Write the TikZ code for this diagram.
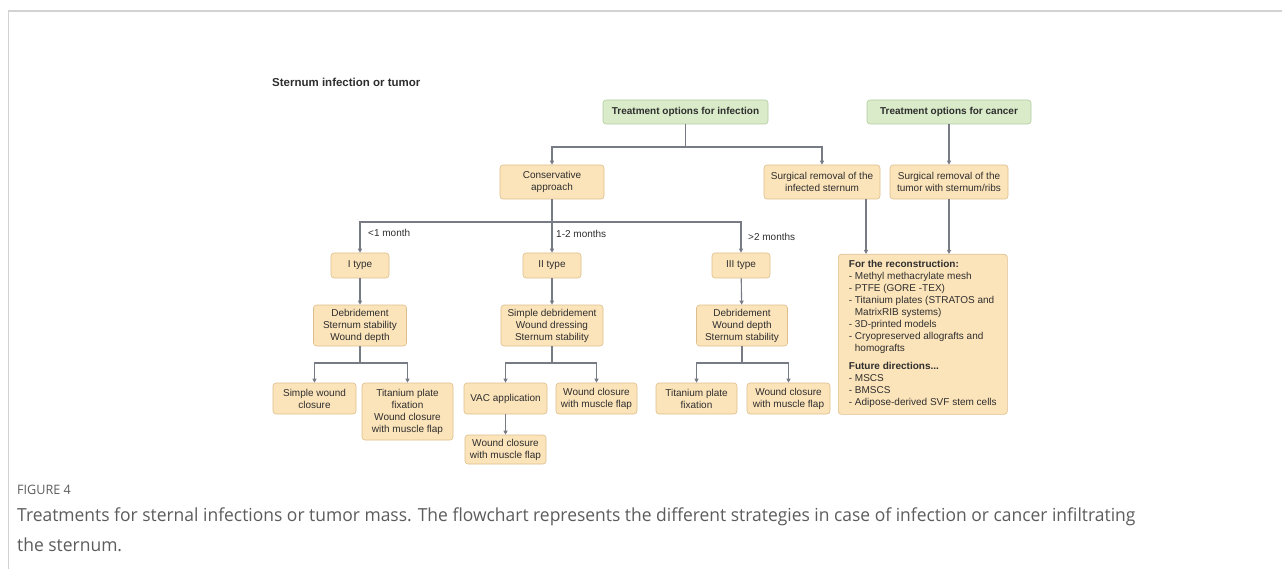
\documentclass[tikz,border=0pt]{standalone}
\usepackage{fontspec}
\setmainfont{Liberation Sans}
\newfontfamily\capfont[FakeStretch=0.97]{Open Sans}
\usepackage{xcolor}
\usetikzlibrary{arrows.meta,positioning}
\definecolor{stnorange}{HTML}{FCE4BA}
\definecolor{stnorangeline}{HTML}{DCBE8C}
\definecolor{stngreen}{HTML}{D9EBC9}
\definecolor{stngreenline}{HTML}{B3CDA0}
\definecolor{stnline}{HTML}{767B84}
\definecolor{stntext}{HTML}{2E2E2E}
\definecolor{stnframe}{HTML}{D2D2D2}
\definecolor{stncap}{HTML}{5C5C5C}
\tikzset{
  box/.style={draw=stnorangeline, fill=stnorange, rounded corners=3pt, align=center,
    inner sep=0pt, line width=0.6pt, text=stntext, font=\fontsize{10}{12}\selectfont},
  gbox/.style={box, draw=stngreenline, fill=stngreen, font=\fontsize{10}{12}\selectfont\bfseries},
  wh/.style 2 args={minimum width=#1pt, minimum height=#2pt},
  link/.style={draw=stnline, line width=1.1pt},
  arr/.style={link, -{Triangle[length=4pt,width=4pt]}},
  lbl/.style={anchor=west, inner sep=0pt, text=stntext, font=\fontsize{10}{12}\selectfont},
}

\begin{document}
\begin{tikzpicture}[x=1pt,y=-1pt]
  \useasboundingbox (0,0) rectangle (1282,569);
  % frame
  \draw[stnframe, line width=1.6pt] (8,11) -- (1282,11);
  \draw[stnframe, line width=0.8pt] (8,11) -- (8,569);
  \node[anchor=west, inner sep=0pt, text=stntext, font=\fontsize{11.5}{14}\selectfont\bfseries]
    (title) at (272,82) {Sternum infection or tumor};
  % top level
  \node[gbox, wh={165}{24}] (inf) at (685.5,112) {Treatment options for infection};
  \node[gbox, wh={164}{24}] (canc) at (949,112) {Treatment options for cancer};
  \node[box, wh={104}{34}] (cons) at (552,182) {Conservative\\approach};
  \node[box, wh={116}{34}] (surginf) at (822,182) {Surgical removal of the\\infected sternum};
  \node[box, wh={118}{34}] (surgtum) at (949,182) {Surgical removal of the\\tumor with sternum/ribs};
  % types
  \node[box, wh={58}{25}] (t1) at (360,265.5) {I type};
  \node[box, wh={58}{25}] (t2) at (552,265.5) {II type};
  \node[box, wh={58}{25}] (t3) at (741,265.5) {III type};
  \node[lbl] (m1) at (368,233) {<1 month};
  \node[lbl] (m2) at (556,234) {1-2 months};
  \node[lbl] (m3) at (748,237) {>2 months};
  \node[box, wh={93}{41}] (d1) at (360,325.5) {Debridement\\Sternum stability\\Wound depth};
  \node[box, wh={102}{41}] (d2) at (552,325.5) {Simple debridement\\Wound dressing\\Sternum stability};
  \node[box, wh={91}{41}] (d3) at (742,325.5) {Debridement\\Wound depth\\Sternum stability};
  % outcomes
  \node[box, wh={83}{31}] (e1) at (314.5,398.5) {Simple wound\\closure};
  \node[box, wh={91}{57}] (e2) at (407.5,411.5) {Titanium plate\\fixation\\Wound closure\\with muscle flap};
  \node[box, wh={83}{31}] (e3) at (505.5,398.5) {VAC application};
  \node[box, wh={81}{31}] (e4) at (596.5,398.5) {Wound closure\\with muscle flap};
  \node[box, wh={81}{29}] (e5) at (505.5,449.5) {Wound closure\\with muscle flap};
  \node[box, wh={81}{31}] (e6) at (696.5,398.5) {Titanium plate\\fixation};
  \node[box, wh={83}{31}] (e7) at (788.5,398.5) {Wound closure\\with muscle flap};
  \node[box, wh={169}{160}, anchor=north west, align=left] (rec) at (838,254) {%
    \textbf{For the reconstruction:}\\
    - Methyl methacrylate mesh\\
    - PTFE (GORE -TEX)\\
    - Titanium plates (STRATOS and\\
    \hspace*{6pt}MatrixRIB systems)\\
    - 3D-printed models\\
    - Cryopreserved allografts and\\
    \hspace*{6pt}homografts\\[6pt]
    \textbf{Future directions...}\\
    - MSCS\\
    - BMSCS\\
    - Adipose-derived SVF stem cells};
  % connectors
  \coordinate (infsplit) at (685.5,147);
  \draw[link] (inf) -- (infsplit);
  \draw[arr] (infsplit) -| (cons);
  \draw[arr] (infsplit) -| (surginf);
  \draw[arr] (canc) -- (surgtum);
  \draw[arr] ([xshift=44pt]surginf.south) -- ([xshift=44pt]surginf.south |- rec.north);
  \draw[arr] (surgtum) -- (surgtum |- rec.north);
  \coordinate (conssplit) at (552,222);
  \draw[link] (cons) -- (conssplit);
  \draw[arr] (conssplit) -| (t1);
  \draw[arr] (conssplit) -- (t2);
  \draw[arr] (conssplit) -| (t3);
  \foreach \i in {1,2,3} \draw[arr] (t\i) -- (d\i);
  \coordinate (d1split) at (360,363);
  \coordinate (d2split) at (552,363);
  \coordinate (d3split) at (742,363);
  \draw[link] (d1) -- (d1split);
  \draw[arr] (d1split) -| (e1);
  \draw[arr] (d1split) -| (e2);
  \draw[link] (d2) -- (d2split);
  \draw[arr] (d2split) -| (e3);
  \draw[arr] (d2split) -| (e4);
  \draw[link] (d3) -- (d3split);
  \draw[arr] (d3split) -| (e6);
  \draw[arr] (d3split) -| (e7);
  \draw[arr] (e3) -- (e5);
  % caption
  \node[anchor=west, inner sep=0pt, text=stncap, font=\capfont\fontsize{13}{15}\selectfont]
    (fig) at (17,490) {FIGURE 4};
  \node[anchor=west, inner sep=0pt, text=stncap, font=\capfont\fontsize{18}{21}\selectfont]
    (cap1) at (17,517) {Treatments for sternal infections or tumor mass. The flowchart represents the different strategies in case of infection or cancer infiltrating};
  \node[anchor=west, inner sep=0pt, text=stncap, font=\capfont\fontsize{18}{21}\selectfont]
    (cap2) at (17,545) {the sternum.};
\end{tikzpicture}
\end{document}
